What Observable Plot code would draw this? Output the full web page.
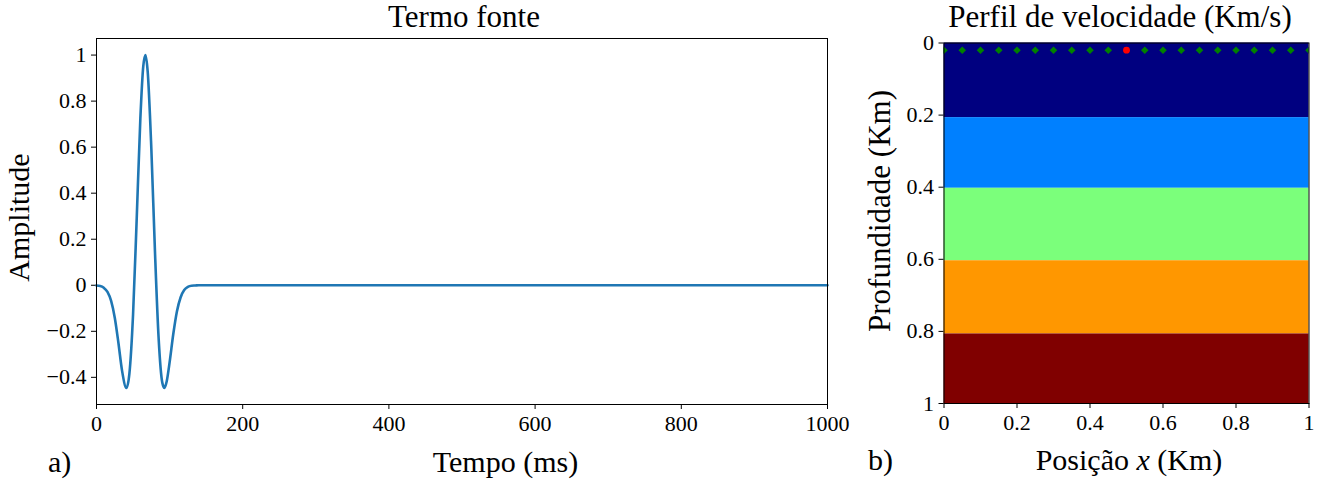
<!DOCTYPE html>
<html><head><meta charset="utf-8">
<script src="https://cdn.jsdelivr.net/npm/d3@7"></script>
<script src="https://cdn.jsdelivr.net/npm/@observablehq/plot@0.6"></script>
<style>
body{margin:0;background:#fff;}
#wrap{position:relative;width:1322px;height:484px;overflow:hidden;background:#fff;}
#wrap svg{position:absolute;top:0;}
#wrap svg, #wrap svg text{font-family:"Liberation Serif", serif !important;}
</style></head><body><div id="wrap"></div>
<script>
// ---- Panel a) source term (values read off the picture) ----
const tempoMs   = [0, 5, 10, 15, 20, 25, 30, 35, 41, 45, 50, 55, 60, 64, 67, 70, 75, 80, 85, 90, 93, 96, 100, 105, 110, 115, 120, 125, 130, 135, 140, 1000];
const amplitude = [-0.001, -0.003, -0.011, -0.029, -0.068, -0.141, -0.251, -0.372, -0.446, -0.384, -0.128, 0.289, 0.725, 0.952, 1.0, 0.929, 0.595, 0.145, -0.231, -0.423, -0.446, -0.418, -0.335, -0.213, -0.114, -0.053, -0.021, -0.007, -0.002, -0.001, 0, 0];
const xTicksA = [0, 200, 400, 600, 800, 1000];
const yTicksA = [-0.4, -0.2, 0, 0.2, 0.4, 0.6, 0.8, 1];

// ---- Panel b) velocity profile ----
const layerTop    = [0, 0.207, 0.403, 0.604, 0.807];
const layerBottom = [0.207, 0.403, 0.604, 0.807, 1];
const velocity    = [1.5, 2.0, 2.5, 3.0, 3.5];
const jetColors   = ["#000080", "#0080ff", "#7bff7b", "#ff9700", "#800000"];
const receiverX   = [0, 0.05, 0.1, 0.15, 0.2, 0.25, 0.3, 0.35, 0.4, 0.45, 0.55, 0.6, 0.65, 0.7, 0.75, 0.8, 0.85, 0.9, 0.95, 1];
const receiverZ   = 0.02;
const sourceX     = [0.5];
const sourceZ     = 0.02;
const ticksB = [0, 0.2, 0.4, 0.6, 0.8, 1];

const fmt = d3.format("~g");
const font = "Liberation Serif";

const wave = tempoMs.map((t, i) => ({t, a: amplitude[i]}));
const layers = velocity.map((v, i) => ({v, x1: 0, x2: 1, y1: layerTop[i], y2: layerBottom[i]}));
const receivers = receiverX.map(x => ({x, z: receiverZ}));
const sources = sourceX.map(x => ({x, z: sourceZ}));

const wrap = document.getElementById("wrap");

const left = Plot.plot({
  width: 860, height: 484,
  marginLeft: 96, marginRight: 33, marginTop: 38, marginBottom: 80,
  style: {fontFamily: font, fontSize: "22px", color: "black", background: "transparent", overflow: "visible"},
  x: {domain: [0, 1000]},
  y: {domain: [-0.518, 1.072]},
  marks: [
    Plot.axisX({ticks: xTicksA, tickFormat: fmt, tickSize: 5, tickPadding: 6, label: null, fontVariant: "normal"}),
    Plot.axisY({ticks: yTicksA, tickFormat: fmt, tickSize: 5, tickPadding: 5, label: null, fontVariant: "normal"}),
    Plot.line(wave, {x: "t", y: "a", stroke: "#1f77b4", strokeWidth: 2.6, curve: "monotone-x"}),
    Plot.frame({stroke: "black", strokeWidth: 1})
  ]
});
left.style.left = "0px";
wrap.appendChild(left);

const right = Plot.plot({
  width: 462, height: 484,
  marginLeft: 83.5, marginRight: 13.5, marginTop: 42.5, marginBottom: 81,
  style: {fontFamily: font, fontSize: "22px", color: "black", background: "transparent", overflow: "visible"},
  x: {domain: [0, 1]},
  y: {domain: [0, 1], reverse: true},
  color: {type: "ordinal", domain: velocity, range: jetColors},
  marks: [
    Plot.rect(layers, {x1: "x1", x2: "x2", y1: "y1", y2: "y2", fill: "v"}),
    Plot.dot(receivers, {x: "x", y: "z", symbol: "diamond2", r: 3.4, fill: "#008000", clip: true}),
    Plot.dot(sources, {x: "x", y: "z", symbol: "circle", r: 3.4, fill: "#ff0000", clip: true}),
    Plot.axisX({ticks: ticksB, tickFormat: fmt, tickSize: 5, tickPadding: 6, label: null, fontVariant: "normal"}),
    Plot.axisY({ticks: ticksB, tickFormat: fmt, tickSize: 5, tickPadding: 5, label: null, fontVariant: "normal"}),
    Plot.frame({stroke: "black", strokeWidth: 1})
  ]
});
right.style.left = "860px";
wrap.appendChild(right);

// ---- Text overlay: titles, axis labels, panel letters ----
const ov = d3.select(wrap).append("svg")
  .attr("width", 1322).attr("height", 484)
  .style("left", "0px").style("pointer-events", "none")
  .attr("font-family", font).attr("font-size", 30).attr("fill", "black");

ov.append("text").attr("x", 464).attr("y", 26.5).attr("font-size", 31).attr("text-anchor", "middle").text("Termo fonte");
ov.append("text").attr("x", 1120).attr("y", 26.5).attr("font-size", 31).attr("text-anchor", "middle").text("Perfil de velocidade (Km/s)");
ov.append("text").attr("x", 505.5).attr("y", 471.5).attr("text-anchor", "middle").text("Tempo (ms)");
const px = ov.append("text").attr("x", 1129).attr("y", 470).attr("text-anchor", "middle");
px.append("tspan").text("Posição ");
px.append("tspan").attr("font-style", "italic").text("x");
px.append("tspan").text(" (Km)");
ov.append("text").attr("x", 48).attr("y", 472).text("a)");
ov.append("text").attr("x", 868).attr("y", 470).text("b)");
ov.append("text").attr("transform", "translate(29,217.5) rotate(-90)").attr("text-anchor", "middle").text("Amplitude");
ov.append("text").attr("transform", "translate(890,211) rotate(-90)").attr("text-anchor", "middle").attr("font-size", 31).text("Profundidade (Km)");
</script>
</body></html>
